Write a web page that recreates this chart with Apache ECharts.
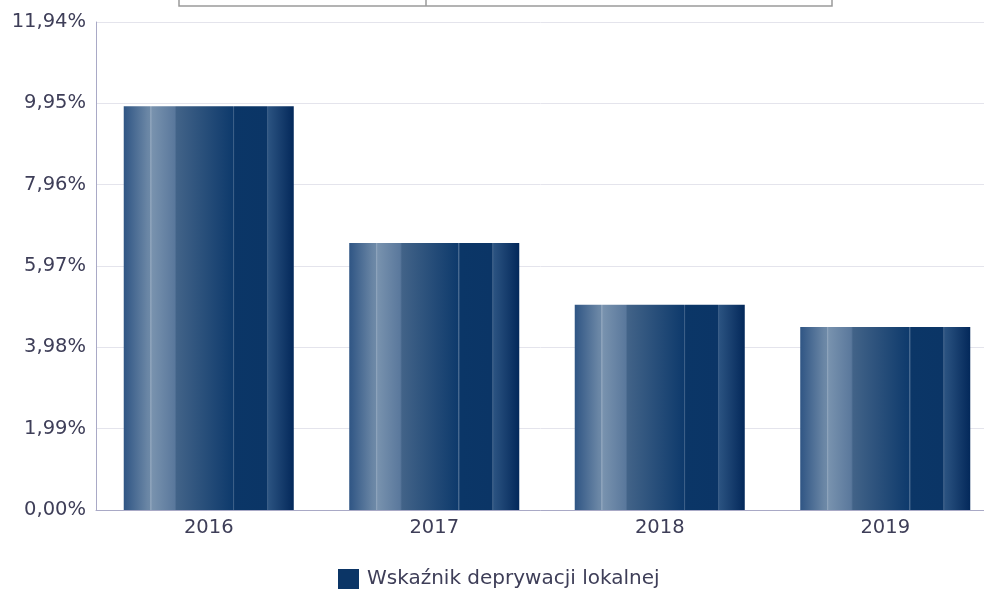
<!DOCTYPE html>
<html>
<head>
<meta charset="utf-8">
<script src="https://cdn.jsdelivr.net/npm/echarts@6/dist/echarts.min.js"></script>
<style>
  html, body { margin: 0; padding: 0; background: #fff; overflow: hidden; }
  #chart { width: 984px; height: 589px; }
</style>
</head>
<body>
<div id="chart"></div>
<script>
// data
const years = ['2016', '2017', '2018', '2019'];
const deprivation = [9.88, 6.53, 5.02, 4.48];
const seriesName = 'Wskaźnik deprywacji lokalnej';
const yMax = 11.94;
const yStep = 1.99;

// bar shading, left to right, with the thin light seams
const barFill = new echarts.graphic.LinearGradient(0, 0, 1, 0, [
    { offset: 0, color: '#2f5584' },
    { offset: 0.14, color: '#6a86a5' },
    { offset: 0.155, color: '#6d89a7' },
    { offset: 0.158, color: '#93a8bf' },
    { offset: 0.168, color: '#7892ae' },
    { offset: 0.30, color: '#5a789c' },
    { offset: 0.31, color: '#426388' },
    { offset: 0.64, color: '#0e3a6c' },
    { offset: 0.643, color: '#4f6f94' },
    { offset: 0.652, color: '#0b3667' },
    { offset: 0.84, color: '#0b3566' },
    { offset: 0.843, color: '#3f6189' },
    { offset: 0.853, color: '#2a5280' },
    { offset: 1, color: '#03285a' }
]);

const chart = echarts.init(document.getElementById('chart'));
chart.setOption({
    animation: false,
    textStyle: { fontFamily: 'DejaVu Sans' },
    // plot runs a little past the right edge of the picture
    grid: { left: 96, width: 902, top: 22, bottom: 79, outerBoundsMode: 'none' },
    legend: {
        data: [{ name: seriesName, itemStyle: { color: '#0b3566' } }],
        left: 333,
        top: 564,
        itemWidth: 21,
        itemHeight: 20,
        itemGap: 8,
        icon: 'rect',
        textStyle: { fontSize: 20, color: '#3e3e58', fontFamily: 'DejaVu Sans', padding: [0, 0, 0, 3] }
    },
    xAxis: {
        type: 'category',
        data: years,
        axisLine: { lineStyle: { color: '#a9a9c6', width: 1 } },
        axisTick: { show: false },
        axisLabel: { fontSize: 19.5, color: '#3e3e58', margin: 8 }
    },
    yAxis: {
        type: 'value',
        min: 0,
        max: yMax,
        interval: yStep,
        axisLine: { show: true, lineStyle: { color: '#a9a9c6', width: 1 } },
        axisTick: { show: false },
        splitLine: { lineStyle: { color: '#e4e4ec', width: 1 } },
        axisLabel: {
            fontSize: 19.5,
            color: '#3e3e58',
            margin: 10,
            formatter: v => v.toFixed(2).replace('.', ',') + '%'
        }
    },
    series: [{
        name: seriesName,
        type: 'bar',
        data: deprivation,
        barWidth: '75.4%',
        itemStyle: { color: barFill },
        emphasis: { disabled: true }
    }],
    graphic: [
        // leftover frame at the very top of the picture
        {
            type: 'rect',
            shape: { x: 179, y: -10, width: 653, height: 16 },
            style: { fill: 'none', stroke: '#9a9a9a', lineWidth: 1.5 }
        },
        {
            type: 'line',
            shape: { x1: 426, y1: 0, x2: 426, y2: 6 },
            style: { stroke: '#9a9a9a', lineWidth: 1.5 }
        }
    ]
});
</script>
</body>
</html>
